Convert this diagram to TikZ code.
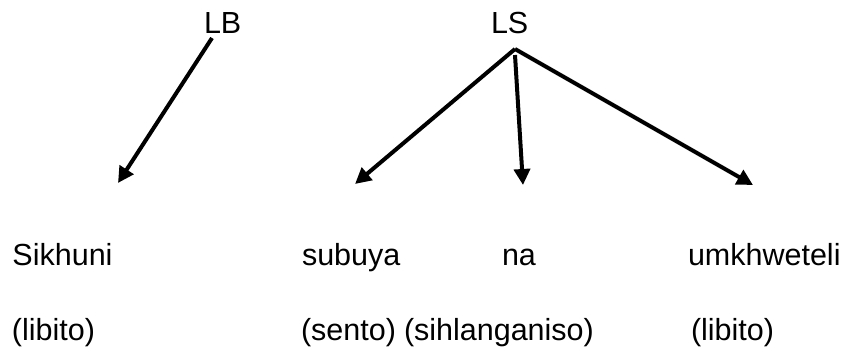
\documentclass[tikz,border=0pt]{standalone}
\usepackage{fontspec}
\setmainfont{Liberation Sans}
\usetikzlibrary{arrows.meta}
\begin{document}
\begin{tikzpicture}[x=1pt,y=-1pt,
  lbl/.style={anchor=base west,inner sep=0pt,outer sep=0pt,font=\fontsize{30.5}{36}\selectfont},
  arr/.style={line width=4pt,-{Triangle[length=16pt,width=16pt]}}]
\useasboundingbox (0,0) rectangle (851,351);
\node[lbl] (LB) at (204,33) {LB};
\node[lbl] (LS) at (491,33) {LS};
\node[lbl] (sik) at (12.5,265) {Sikhuni};
\node[lbl] (sub) at (302,265) {subuya};
\node[lbl] (na) at (502,265) {na};
\node[lbl] (umk) at (688,265) {umkhweteli};
\node[lbl] (lib1) at (12,340) {(libito)};
\node[lbl] (sen) at (301,340) {(sento)};
\node[lbl] (sih) at (404,340) {(sihlanganiso)};
\node[lbl] (lib2) at (691,340) {(libito)};
\coordinate (lbfoot) at (212,38);
\coordinate (lsapex) at (515,49);
\coordinate (lsmid) at (515,55);
\coordinate (t1) at (118,183);
\coordinate (t2) at (355,184);
\coordinate (t3) at (523,185);
\coordinate (t4) at (753,185);
\draw[arr] (lbfoot) -- (t1);
\draw[arr] (lsapex) -- (t2);
\draw[arr] (lsmid) -- (t3);
\draw[arr] (lsapex) -- (t4);
\end{tikzpicture}
\end{document}
